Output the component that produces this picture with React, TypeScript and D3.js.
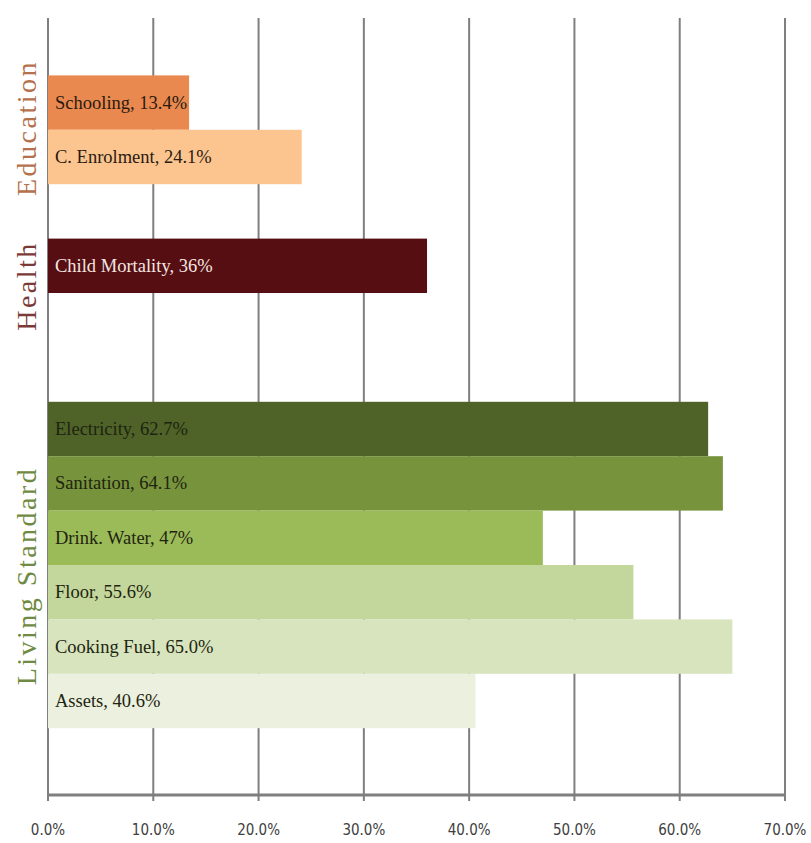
import React from "react";
import * as d3 from "d3";

const groups = ["Education", "Health", "Living Standard"];
const groupColors = ["#b5704c", "#7b3a38", "#6f8a42"];
const slots = ["g0", "Schooling", "C. Enrolment", "g1", "Child Mortality", "g2", "g3", "Electricity", "Sanitation", "Drink. Water", "Floor", "Cooking Fuel", "Assets", "g4"];
const indicators = ["Schooling", "C. Enrolment", "Child Mortality", "Electricity", "Sanitation", "Drink. Water", "Floor", "Cooking Fuel", "Assets"];
const valueLabels = ["13.4%", "24.1%", "36%", "62.7%", "64.1%", "47%", "55.6%", "65.0%", "40.6%"];
const values = [13.4, 24.1, 36, 62.7, 64.1, 47, 55.6, 65.0, 40.6];
const indicatorGroup = [0, 0, 1, 2, 2, 2, 2, 2, 2];
const barColors = ["#e9894f", "#fcc58f", "#560e13", "#4f6228", "#77933c", "#9bbb59", "#c3d69b", "#d7e4bd", "#ebf1de"];
const textColors = ["#2a1a10", "#2a1a10", "#f3e6e0", "#1e2410", "#1e2410", "#1e2410", "#1e2410", "#1e2410", "#1e2410"];
const ticks = [0, 10, 20, 30, 40, 50, 60, 70];

export default function App() {
  const W = 811, H = 843;
  const x = d3.scaleLinear().domain([0, 70]).range([48, 785]);
  const y = d3.scaleBand().domain(slots).range([21, 21 + 54.4 * slots.length]).padding(0);
  const top = 18, axisY = 795;
  const serif = "'Liberation Serif', 'DejaVu Serif', serif";
  const groupCenters = [128, 286, 576];

  return (
    <svg width={W} height={H} style={{ position: "absolute", left: 0, top: 0, background: "#fff" }}>
      {ticks.map((t) => (
        <line key={"g" + t} x1={x(t)} x2={x(t)} y1={top} y2={axisY + 6} stroke="#7f7f7f" strokeWidth={2} />
      ))}
      <line x1={x(0)} x2={x(70)} y1={axisY} y2={axisY} stroke="#7f7f7f" strokeWidth={3} />
      {indicators.map((d, i) => (
        <rect key={d} x={x(0)} y={y(d)} width={x(values[i]) - x(0)} height={y.bandwidth()} fill={barColors[i]} />
      ))}
      {indicators.map((d, i) => (
        <text key={"t" + d} x={x(0) + 7} y={y(d)! + y.bandwidth() / 2} dominantBaseline="central"
          fontFamily={serif} fontSize={18.5} fill={textColors[i]}>
          {d}, {valueLabels[i]}
        </text>
      ))}
      {groups.map((g, gi) => (
        <text key={g} transform={`translate(26,${groupCenters[gi]}) rotate(-90)`} textAnchor="middle"
          dominantBaseline="central" fontFamily={serif} fontSize={28} letterSpacing={2.5} fill={groupColors[gi]}>
          {g}
        </text>
      ))}
      {ticks.map((t) => (
        <text key={"l" + t} x={x(t)} y={830} textAnchor="middle" dominantBaseline="central"
          fontFamily="'Liberation Sans Narrow', 'DejaVu Sans Condensed', sans-serif" fontSize={15} fill="#404040"
          style={{ fontStretch: "condensed" }}>
          {t.toFixed(1)}%
        </text>
      ))}
    </svg>
  );
}
